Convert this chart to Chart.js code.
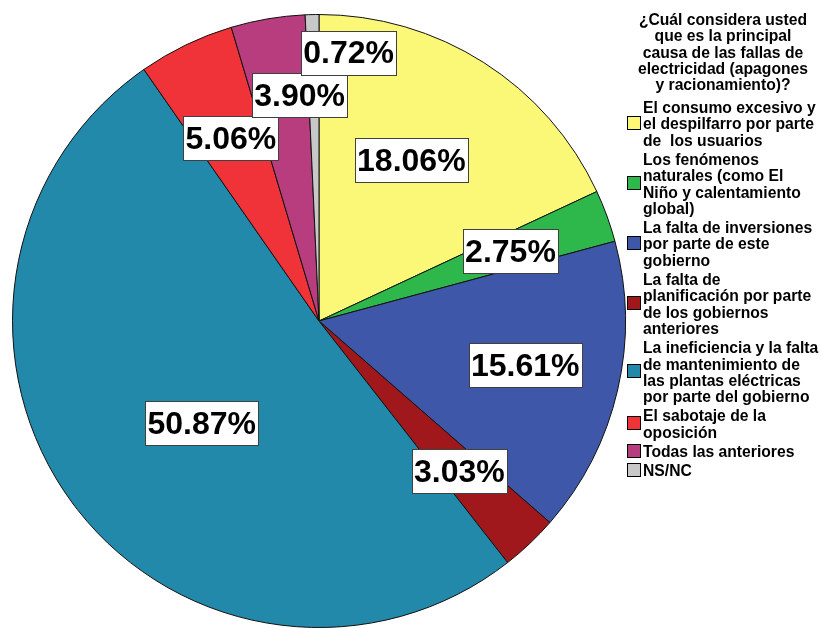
<!DOCTYPE html>
<html>
<head>
<meta charset="utf-8">
<script src="https://cdn.jsdelivr.net/npm/chart.js@4/dist/chart.umd.min.js"></script>
<style>
  html, body { margin: 0; padding: 0; background: #fff; }
  canvas { display: block; }
</style>
</head>
<body>
<canvas id="pie" width="822" height="628"></canvas>
<script>
// legend title
const titleLines = [
    '¿Cuál considera usted',
    'que es la principal',
    'causa de las fallas de',
    'electricidad (apagones',
    'y racionamiento)?'
];

// categories (each one split in lines as in the legend)
const categories = [
    ['El consumo excesivo y', 'el despilfarro por parte', 'de  los usuarios'],
    ['Los fenómenos', 'naturales (como El', 'Niño y calentamiento', 'global)'],
    ['La falta de inversiones', 'por parte de este', 'gobierno'],
    ['La falta de', 'planificación por parte', 'de los gobiernos', 'anteriores'],
    ['La ineficiencia y la falta', 'de mantenimiento de', 'las plantas eléctricas', 'por parte del gobierno'],
    ['El sabotaje de la', 'oposición'],
    ['Todas las anteriores'],
    ['NS/NC']
];

const percentages = [18.06, 2.75, 15.61, 3.03, 50.87, 5.06, 3.90, 0.72];

const sliceColors = ['#FBF877', '#2EB84C', '#3E57A9', '#A0181C', '#2389AB', '#EF3339', '#B83D7E', '#C8C8C8'];

const FONT = '"Liberation Sans", Arial, Helvetica, sans-serif';

// white boxed percentage labels inside the slices
const boxLabels = {
    id: 'boxLabels',
    afterDatasetsDraw(chart, args, opts) {
        const ctx = chart.ctx;
        const meta = chart.getDatasetMeta(0);
        const values = chart.data.datasets[0].data;
        ctx.save();
        ctx.font = 'bold 32px ' + FONT;
        ctx.textAlign = 'center';
        ctx.textBaseline = 'middle';
        meta.data.forEach((arc, i) => {
            const p = arc.getProps(['x', 'y', 'startAngle', 'endAngle', 'outerRadius'], true);
            const a = (p.startAngle + p.endAngle) / 2 + (opts.shift[i] || 0) * Math.PI / 180;
            const r = p.outerRadius * opts.radial[i];
            const cx = p.x + Math.cos(a) * r;
            const cy = p.y + Math.sin(a) * r;
            const text = values[i].toFixed(2) + '%';
            const w = Math.round(ctx.measureText(text).width + 4);
            const h = 44;
            const bx = Math.round(cx - w / 2) + 0.5, by = Math.round(cy - h / 2) + 0.5;
            ctx.fillStyle = '#fff';
            ctx.fillRect(bx, by, w, h);
            ctx.strokeStyle = '#404040';
            ctx.lineWidth = 1;
            ctx.strokeRect(bx, by, w, h);
            ctx.fillStyle = '#000';
            ctx.fillText(text, cx, cy + 2);
        });
        ctx.restore();
    }
};

// legend on the right side, with multi-line entries
const sideLegend = {
    id: 'sideLegend',
    afterDraw(chart, args, opts) {
        const ctx = chart.ctx;
        const ds = chart.data.datasets[0];
        ctx.save();
        ctx.font = 'bold 15.7px ' + FONT;
        ctx.fillStyle = '#000';
        ctx.textBaseline = 'alphabetic';

        // title
        ctx.textAlign = 'center';
        opts.title.forEach((line, i) => {
            ctx.fillText(line, opts.titleX, opts.titleY + i * opts.lineH);
        });

        // entries
        ctx.textAlign = 'left';
        let y = opts.itemsY;
        chart.data.labels.forEach((lines, i) => {
            const first = y;
            lines.forEach((line, j) => {
                ctx.fillText(line, opts.textX, y);
                if (j < lines.length - 1) y += opts.lineH;
            });
            // box centered on the text block
            const mid = (first - 11 + y + 1) / 2 - 2;
            const bx = opts.boxX + 0.5, by = Math.round(mid - opts.box / 2) + 0.5;
            ctx.fillStyle = ds.backgroundColor[i];
            ctx.fillRect(bx, by, opts.box, opts.box);
            ctx.strokeStyle = '#000';
            ctx.lineWidth = 1;
            ctx.strokeRect(bx, by, opts.box, opts.box);
            ctx.fillStyle = '#000';
            y += opts.lineH + opts.gap;
        });
        ctx.restore();
    }
};

new Chart(document.getElementById('pie'), {
    type: 'pie',
    data: {
        labels: categories,
        datasets: [{
            data: percentages,
            backgroundColor: sliceColors,
            borderColor: '#111',
            borderWidth: 1
        }]
    },
    options: {
        responsive: false,
        animation: false,
        layout: { padding: { left: 12, right: 196, top: 14, bottom: 0 } },
        plugins: {
            legend: { display: false },
            tooltip: { enabled: false },
            boxLabels: {
                radial: [0.606, 0.665, 0.688, 0.67, 0.507, 0.662, 0.74, 0.881],
                shift: [-2.7, 0, -1, 0.3, -4.6, 0, 4.7, 7.6]
            },
            sideLegend: {
                title: titleLines,
                titleX: 723,
                titleY: 25,
                itemsY: 113,
                lineH: 16.3,
                gap: 3,
                textX: 643,
                boxX: 627,
                box: 13
            }
        }
    },
    plugins: [boxLabels, sideLegend]
});
</script>
</body>
</html>
